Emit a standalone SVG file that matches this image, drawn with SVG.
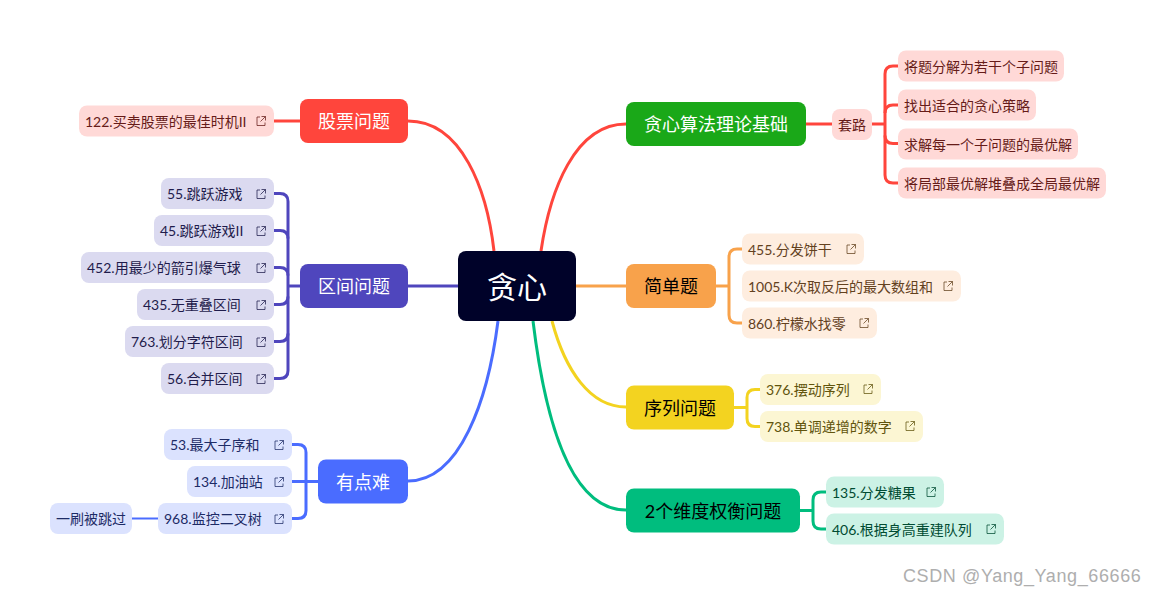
<svg xmlns="http://www.w3.org/2000/svg" width="1156" height="595" viewBox="0 0 1156 595">
<style>
text{font-family:"Lato","Noto Sans CJK SC",sans-serif;font-weight:400}
.leaf text{font-size:14px}
.main text{font-size:18px;text-anchor:middle}
#connectors path{fill:none;stroke-width:3}
.ic{fill:none;stroke-width:1;opacity:.75}
.red path{stroke:#ff453c}.pur path{stroke:#4f46bd}.blu path{stroke:#4a6cff}.grn path{stroke:#1aa818}.org path{stroke:#f8a24b}.yel path{stroke:#f3d320}.tea path{stroke:#00bd7e}
.lr rect{fill:#ffd9d7}.lr text{fill:#661b18}.lr use{stroke:#661b18}
.lp rect{fill:#dbdaf0}.lp text{fill:#1f1c4c}.lp use{stroke:#1f1c4c}
.lb rect{fill:#dbe2fe}.lb text{fill:#1d2b66}.lb use{stroke:#1d2b66}
.lo rect{fill:#feeddf}.lo text{fill:#63411e}.lo use{stroke:#63411e}
.ly rect{fill:#fcf6d3}.ly text{fill:#61540d}.ly use{stroke:#61540d}
.lt rect{fill:#ccf2e5}.lt text{fill:#004b32}.lt use{stroke:#004b32}
</style>
<defs>
<symbol id="ext" viewBox="0 0 10 10" width="10" height="10" overflow="visible">
<path class="ic" d="M4 1H1V9.500H9V6.500M5.500 .5H9.500V4.500M9.500 .5L4.500 5.500"/>
</symbol>
</defs>
<rect width="1156" height="595" fill="#fff"/>
<g id="connectors">
<g class="red">
<path d="M494 251C487 190 462 121 408 121"/>
<path d="M300 121H274"/>
<path d="M541 251C550 190 575 124 626 124"/>
<path d="M806 124H832"/>
<path d="M872 124H885"/>
<path d="M898 66H893Q885 66 885 74V175Q885 183 893 183H898"/>
<path d="M898 105H893Q885 105 885 113"/>
<path d="M898 143.500H893Q885 143.500 885 135.500"/>
</g>
<g class="pur">
<path d="M458 286H408"/>
<path d="M300 286H288"/>
<path d="M274 193.500H280Q288 193.500 288 201.500V370.500Q288 378.500 280 378.500H274"/>
<path d="M274 230.500H280Q288 230.500 288 238.500"/>
<path d="M274 267.500H280Q288 267.500 288 275.500"/>
<path d="M274 304.500H280Q288 304.500 288 296.500"/>
<path d="M274 341.500H280Q288 341.500 288 333.500"/>
</g>
<g class="blu">
<path d="M498 321C488 400 460 481 408 481"/>
<path d="M318 481.500H292"/>
<path d="M292 444.500H298Q306 444.500 306 452.500V510.500Q306 518.500 298 518.500H292"/>
<path d="M158 518.500H132" style="stroke-width:2"/>
</g>
<g class="org">
<path d="M576 286H626"/>
<path d="M716 286H729"/>
<path d="M742 249H737Q729 249 729 257V315Q729 323 737 323H742"/>
</g>
<g class="yel">
<path d="M552 321C565 370 590 407 626 407"/>
<path d="M734 407.500H747"/>
<path d="M760 389.500H755Q747 389.500 747 397.500V418.500Q747 426.500 755 426.500H760"/>
</g>
<g class="tea">
<path d="M533 321C545 420 570 510 626 510"/>
<path d="M800 510.500H813"/>
<path d="M826 492H821Q813 492 813 500V521Q813 529 821 529H826"/>
</g>
</g>
<g id="root" class="main"><rect x="458" y="251" width="118" height="70" rx="8" fill="#000229"/><text x="517" y="298" fill="#fff" style="font-size:30px">贪心</text></g>
<g id="stock" class="main"><rect x="300" y="99" width="108" height="44" rx="8" fill="#ff453c"/><text x="354" y="128" fill="#fff">股票问题</text></g>
<g id="interval" class="main"><rect x="300" y="264" width="108" height="44" rx="8" fill="#4f46bd"/><text x="354" y="293" fill="#fff">区间问题</text></g>
<g id="hard" class="main"><rect x="318" y="459.500" width="90" height="44" rx="8" fill="#4a6cff"/><text x="363" y="489" fill="#fff">有点难</text></g>
<g id="theory" class="main"><rect x="626" y="102" width="180" height="44" rx="8" fill="#1aa818"/><text x="716" y="131" fill="#fff">贪心算法理论基础</text></g>
<g id="easy" class="main"><rect x="626" y="264" width="90" height="44" rx="8" fill="#f8a24b"/><text x="671" y="293" fill="#000">简单题</text></g>
<g id="sequence" class="main"><rect x="626" y="385.500" width="108" height="44" rx="8" fill="#f3d320"/><text x="680" y="415" fill="#000">序列问题</text></g>
<g id="twodim" class="main"><rect x="626" y="488.500" width="174" height="44" rx="8" fill="#00bd7e"/><text x="713" y="518" fill="#000">2个维度权衡问题</text></g>

<g id="n122" class="leaf lr"><rect x="79" y="105.500" width="195" height="31" rx="8"/><text x="85" y="126.500">122.买卖股票的最佳时机II</text><use href="#ext" x="256" y="116"/></g>
<g id="n55" class="leaf lp"><rect x="161" y="178" width="113" height="31" rx="8"/><text x="167" y="199">55.跳跃游戏</text><use href="#ext" x="256" y="189"/></g>
<g id="n45" class="leaf lp"><rect x="154" y="215" width="120" height="31" rx="8"/><text x="160" y="236">45.跳跃游戏II</text><use href="#ext" x="256" y="226"/></g>
<g id="n452" class="leaf lp"><rect x="81" y="252" width="193" height="31" rx="8"/><text x="87" y="273">452.用最少的箭引爆气球</text><use href="#ext" x="256" y="263"/></g>
<g id="n435" class="leaf lp"><rect x="137" y="289" width="137" height="31" rx="8"/><text x="143" y="310">435.无重叠区间</text><use href="#ext" x="256" y="300"/></g>
<g id="n763" class="leaf lp"><rect x="125" y="326" width="149" height="31" rx="8"/><text x="131" y="347">763.划分字符区间</text><use href="#ext" x="256" y="337"/></g>
<g id="n56" class="leaf lp"><rect x="161" y="363" width="113" height="31" rx="8"/><text x="167" y="384">56.合并区间</text><use href="#ext" x="256" y="374"/></g>

<g id="n53" class="leaf lb"><rect x="164" y="429" width="128" height="31" rx="8"/><text x="170" y="450">53.最大子序和</text><use href="#ext" x="274" y="440"/></g>
<g id="n134" class="leaf lb"><rect x="187" y="466" width="105" height="31" rx="8"/><text x="193" y="487">134.加油站</text><use href="#ext" x="274" y="477"/></g>
<g id="n968" class="leaf lb"><rect x="158" y="503" width="134" height="31" rx="8"/><text x="164" y="524">968.监控二叉树</text><use href="#ext" x="274" y="514"/></g>
<g id="skipped" class="leaf lb"><rect x="50" y="503" width="82" height="31" rx="8"/><text x="56" y="524">一刷被跳过</text></g>

<g id="routine" class="leaf lr"><rect x="832" y="109" width="40" height="31" rx="8"/><text x="838" y="130">套路</text></g>
<g id="s1" class="leaf lr"><rect x="898" y="50.500" width="166" height="31" rx="8"/><text x="904" y="71.500">将题分解为若干个子问题</text></g>
<g id="s2" class="leaf lr"><rect x="898" y="89.500" width="138" height="31" rx="8"/><text x="904" y="110.500">找出适合的贪心策略</text></g>
<g id="s3" class="leaf lr"><rect x="898" y="128.500" width="180" height="31" rx="8"/><text x="904" y="149.500">求解每一个子问题的最优解</text></g>
<g id="s4" class="leaf lr"><rect x="898" y="167.500" width="208" height="31" rx="8"/><text x="904" y="188.500">将局部最优解堆叠成全局最优解</text></g>

<g id="n455" class="leaf lo"><rect x="742" y="233.500" width="122" height="31" rx="8"/><text x="748" y="254.500">455.分发饼干</text><use href="#ext" x="846" y="244"/></g>
<g id="n1005" class="leaf lo"><rect x="742" y="270.500" width="219" height="31" rx="8"/><text x="748" y="291.500">1005.K次取反后的最大数组和</text><use href="#ext" x="943" y="281"/></g>
<g id="n860" class="leaf lo"><rect x="742" y="307.500" width="135" height="31" rx="8"/><text x="748" y="328.500">860.柠檬水找零</text><use href="#ext" x="859" y="318"/></g>

<g id="n376" class="leaf ly"><rect x="760" y="374" width="121" height="31" rx="8"/><text x="766" y="395">376.摆动序列</text><use href="#ext" x="863" y="384"/></g>
<g id="n738" class="leaf ly"><rect x="760" y="411" width="163" height="31" rx="8"/><text x="766" y="432">738.单调递增的数字</text><use href="#ext" x="905" y="421"/></g>

<g id="n135" class="leaf lt"><rect x="826" y="476.500" width="118" height="31" rx="8"/><text x="832" y="497.500">135.分发糖果</text><use href="#ext" x="926" y="487"/></g>
<g id="n406" class="leaf lt"><rect x="826" y="513.500" width="178" height="31" rx="8"/><text x="832" y="534.500">406.根据身高重建队列</text><use href="#ext" x="986" y="524"/></g>

<text id="watermark" x="903" y="582" style="font-family:'Liberation Sans',sans-serif;font-weight:400;font-size:18px;letter-spacing:.6px" fill="#aeaeae">CSDN @Yang_Yang_66666</text>
</svg>
